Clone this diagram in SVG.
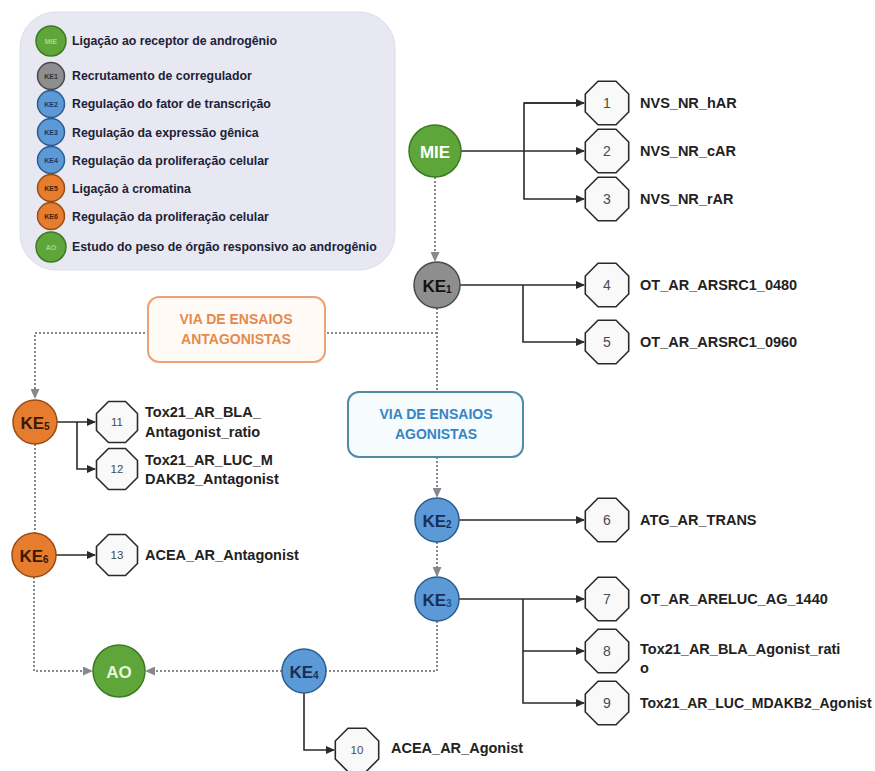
<svg xmlns="http://www.w3.org/2000/svg" xmlns:xlink="http://www.w3.org/1999/xlink" width="875" height="771" viewBox="0 0 875 771">
<defs>
<style>
.bg{fill:#ffffff}
.legend-box{fill:#e7e8f2;stroke:#dcdde9;stroke-width:1}
.lt{font-family:"Liberation Sans",Arial,sans-serif;font-size:12.3px;font-weight:bold;fill:#1c2238}
.oct{fill:#f9f9f9;stroke:#2a2a2a;stroke-width:1.6}
.num{font-family:"Liberation Sans",Arial,sans-serif;font-size:14px;fill:#4a4a4a;text-anchor:middle;dominant-baseline:central}
.num2{font-family:"Liberation Sans",Arial,sans-serif;font-size:11.5px;fill:#4a4a4a;text-anchor:middle;dominant-baseline:central}
.lab{font-family:"Liberation Sans",Arial,sans-serif;font-size:14.5px;font-weight:bold;fill:#222;dominant-baseline:central}
.green{fill:#5ea63a;stroke:#3d7a24;stroke-width:1.5}
.gray{fill:#8e8e8e;stroke:#4a4a4a;stroke-width:1.5}
.blue{fill:#5b9ad6;stroke:#2d5d8e;stroke-width:1.5}
.orange{fill:#e67c2e;stroke:#9a4c14;stroke-width:1.5}
.nt{font-family:"Liberation Sans",Arial,sans-serif;font-size:17px;font-weight:bold;text-anchor:middle;dominant-baseline:central}
.sub{font-size:10px}
.it{font-family:"Liberation Sans",Arial,sans-serif;font-size:7px;font-weight:bold;text-anchor:middle;dominant-baseline:central}
.solid{fill:none;stroke:#2a2a2a;stroke-width:1.6}
.dot{fill:none;stroke:#85898f;stroke-width:2;stroke-dasharray:2 2}
.box-ant{fill:#fffaf6;stroke:#e9a374;stroke-width:2}
.box-ag{fill:#f6fbfe;stroke:#4d8ba6;stroke-width:2}
.bt-ant{font-family:"Liberation Sans",Arial,sans-serif;font-size:14px;font-weight:bold;fill:#e38a4e;text-anchor:middle;dominant-baseline:central}
.bt-ag{font-family:"Liberation Sans",Arial,sans-serif;font-size:14px;font-weight:bold;fill:#3585c4;text-anchor:middle;dominant-baseline:central}
</style>
<polygon id="oct" points="-9,-21.7 9,-21.7 21.7,-9 21.7,9 9,21.7 -9,21.7 -21.7,9 -21.7,-9"/>
<polygon id="octs" points="-8.5,-20.5 8.5,-20.5 20.5,-8.5 20.5,8.5 8.5,20.5 -8.5,20.5 -20.5,8.5 -20.5,-8.5"/>
<marker id="ah" markerUnits="userSpaceOnUse" markerWidth="9" markerHeight="8" refX="8" refY="4" orient="auto">
<path d="M0,0 L9,4 L0,8 z" fill="#2a2a2a"/>
</marker>
<marker id="ahd" markerUnits="userSpaceOnUse" markerWidth="10" markerHeight="9" refX="9" refY="4.5" orient="auto">
<path d="M0,0 L10,4.5 L0,9 z" fill="#85898f"/>
</marker>
</defs>
<rect class="bg" x="0" y="0" width="875" height="771"/>

<g id="legend">
<rect class="legend-box" x="20" y="12" width="375" height="258" rx="36" ry="36"/>
<circle class="green" cx="51" cy="41" r="15"/><text class="it" x="51" y="41" fill="#a8d890">MIE</text>
<text class="lt" x="72" y="45">Ligação ao receptor de androgênio</text>
<circle class="gray" cx="51" cy="76" r="13.5"/><text class="it" x="51" y="76" fill="#333">KE1</text>
<text class="lt" x="72" y="80">Recrutamento de corregulador</text>
<circle class="blue" cx="51" cy="104" r="13.5"/><text class="it" x="51" y="104" fill="#1c3760">KE2</text>
<text class="lt" x="72" y="108">Regulação do fator de transcrição</text>
<circle class="blue" cx="51" cy="132" r="13.5"/><text class="it" x="51" y="132" fill="#1c3760">KE3</text>
<text class="lt" x="72" y="137">Regulação da expressão gênica</text>
<circle class="blue" cx="51" cy="160" r="13.5"/><text class="it" x="51" y="160" fill="#1c3760">KE4</text>
<text class="lt" x="72" y="165">Regulação da proliferação celular</text>
<circle class="orange" cx="51" cy="188" r="13.5"/><text class="it" x="51" y="188" fill="#4a2000">KE5</text>
<text class="lt" x="72" y="193">Ligação à cromatina</text>
<circle class="orange" cx="51" cy="216" r="13.5"/><text class="it" x="51" y="216" fill="#4a2000">KE6</text>
<text class="lt" x="72" y="221">Regulação da proliferação celular</text>
<circle class="green" cx="51" cy="247" r="15"/><text class="it" x="51" y="247" fill="#a8d890">AO</text>
<text class="lt" x="72" y="251">Estudo do peso de órgão responsivo ao androgênio</text>
</g>

<g id="connectors">
<path class="solid" d="M461,151 H584" marker-end="url(#ah)"/>
<path class="solid" d="M584,103 H524 V199 H584" marker-end="url(#ah)"/>
<path class="solid" d="M524,103 H584" marker-end="url(#ah)"/>
<path class="solid" d="M460,285 H584" marker-end="url(#ah)"/>
<path class="solid" d="M523,285 V342 H584" marker-end="url(#ah)"/>
<path class="solid" d="M459,520 H584" marker-end="url(#ah)"/>
<path class="solid" d="M459,599 H584" marker-end="url(#ah)"/>
<path class="solid" d="M523,599 V703 H584" marker-end="url(#ah)"/>
<path class="solid" d="M523,651 H584" marker-end="url(#ah)"/>
<path class="solid" d="M304,693 V750 H334" marker-end="url(#ah)"/>
<path class="solid" d="M57,422 H95" marker-end="url(#ah)"/>
<path class="solid" d="M77,422 V469 H95" marker-end="url(#ah)"/>
<path class="solid" d="M56,555 H95" marker-end="url(#ah)"/>
<path class="dot" d="M435,177 V261" marker-end="url(#ahd)"/>
<path class="dot" d="M437,308 V392"/>
<path class="dot" d="M437,333 H35 V398" marker-end="url(#ahd)"/>
<path class="dot" d="M437,457 V497" marker-end="url(#ahd)"/>
<path class="dot" d="M437,542 V576" marker-end="url(#ahd)"/>
<path class="dot" d="M437,621 V671 H326"/>
<path class="dot" d="M282,671 H146" marker-end="url(#ahd)"/>
<path class="dot" d="M35,444 V533"/>
<path class="dot" d="M34,577 V671 H92" marker-end="url(#ahd)"/>
</g>

<g id="box-antagonistas">
<rect class="box-ant" x="148" y="297" width="177" height="65" rx="11" ry="11"/>
<text class="bt-ant" x="236" y="319">VIA DE ENSAIOS</text>
<text class="bt-ant" x="236" y="339">ANTAGONISTAS</text>
</g>
<g id="box-agonistas">
<rect class="box-ag" x="348" y="392" width="175" height="65" rx="11" ry="11"/>
<text class="bt-ag" x="436" y="414">VIA DE ENSAIOS</text>
<text class="bt-ag" x="436" y="434">AGONISTAS</text>
</g>

<g id="MIE"><circle class="green" cx="435" cy="151" r="26"/><text class="nt" x="435" y="152" fill="#ffffff">MIE</text></g>
<g id="KE1"><circle class="gray" cx="437" cy="285" r="23"/><text class="nt" x="437" y="286" fill="#111">KE<tspan class="sub" dy="3">1</tspan></text></g>
<g id="KE2"><circle class="blue" cx="437" cy="520" r="22"/><text class="nt" x="437" y="521" fill="#1a2e55">KE<tspan class="sub" dy="3">2</tspan></text></g>
<g id="KE3"><circle class="blue" cx="437" cy="599" r="22"/><text class="nt" x="437" y="600" fill="#1a2e55">KE<tspan class="sub" dy="3" fill="#1f4f9a">3</tspan></text></g>
<g id="KE4"><circle class="blue" cx="304" cy="671" r="22"/><text class="nt" x="304" y="672" fill="#1a2e55">KE<tspan class="sub" dy="3">4</tspan></text></g>
<g id="KE5"><circle class="orange" cx="35" cy="422" r="22"/><text class="nt" x="35" y="423" fill="#3a1800">KE<tspan class="sub" dy="3">5</tspan></text></g>
<g id="KE6"><circle class="orange" cx="34" cy="555" r="22"/><text class="nt" x="34" y="556" fill="#3a1800">KE<tspan class="sub" dy="3">6</tspan></text></g>
<g id="AO"><circle class="green" cx="119" cy="671" r="26"/><text class="nt" x="119" y="672" fill="#e6f5dc">AO</text></g>

<g id="assay1"><use href="#oct" class="oct" x="607" y="103"/><text class="num" x="607" y="103">1</text><text class="lab" x="640" y="103">NVS_NR_hAR</text></g>
<g id="assay2"><use href="#oct" class="oct" x="607" y="151"/><text class="num" x="607" y="151">2</text><text class="lab" x="640" y="151">NVS_NR_cAR</text></g>
<g id="assay3"><use href="#oct" class="oct" x="607" y="199"/><text class="num" x="607" y="199">3</text><text class="lab" x="640" y="199">NVS_NR_rAR</text></g>
<g id="assay4"><use href="#oct" class="oct" x="607" y="285"/><text class="num" x="607" y="285">4</text><text class="lab" x="640" y="285">OT_AR_ARSRC1_0480</text></g>
<g id="assay5"><use href="#oct" class="oct" x="607" y="342"/><text class="num" x="607" y="342">5</text><text class="lab" x="640" y="342">OT_AR_ARSRC1_0960</text></g>
<g id="assay6"><use href="#oct" class="oct" x="607" y="520"/><text class="num" x="607" y="520">6</text><text class="lab" x="640" y="520">ATG_AR_TRANS</text></g>
<g id="assay7"><use href="#oct" class="oct" x="607" y="599"/><text class="num" x="607" y="599">7</text><text class="lab" x="640" y="599">OT_AR_ARELUC_AG_1440</text></g>
<g id="assay8"><use href="#oct" class="oct" x="607" y="651"/><text class="num" x="607" y="651">8</text><text class="lab" x="640" y="649">Tox21_AR_BLA_Agonist_rati</text><text class="lab" x="640" y="668">o</text></g>
<g id="assay9"><use href="#oct" class="oct" x="607" y="703"/><text class="num" x="607" y="703">9</text><text class="lab" x="640" y="703" style="font-size:14px">Tox21_AR_LUC_MDAKB2_Agonist</text></g>
<g id="assay10"><use href="#oct" class="oct" x="357" y="750"/><text class="num2" x="357" y="750">10</text><text class="lab" x="391" y="748">ACEA_AR_Agonist</text></g>
<g id="assay11"><use href="#octs" class="oct" x="117" y="422"/><text class="num2" x="117" y="422">11</text><text class="lab" x="145" y="412">Tox21_AR_BLA_</text><text class="lab" x="145" y="432">Antagonist_ratio</text></g>
<g id="assay12"><use href="#octs" class="oct" x="117" y="469"/><text class="num2" x="117" y="469">12</text><text class="lab" x="145" y="460">Tox21_AR_LUC_M</text><text class="lab" x="145" y="479">DAKB2_Antagonist</text></g>
<g id="assay13"><use href="#octs" class="oct" x="117" y="555"/><text class="num2" x="117" y="555">13</text><text class="lab" x="145" y="555">ACEA_AR_Antagonist</text></g>
</svg>
